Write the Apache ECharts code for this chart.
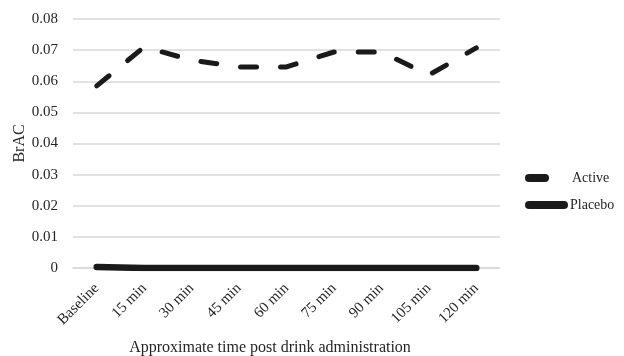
<!DOCTYPE html>
<html><head><meta charset="utf-8">
<script src="https://cdn.jsdelivr.net/npm/echarts@6/dist/echarts.min.js"></script>
<style>html,body{margin:0;padding:0;background:#fff}#c{width:624px;height:356px}</style>
</head><body><div id="c"></div>
<script>
const categories = ['Baseline','15 min','30 min','45 min','60 min','75 min','90 min','105 min','120 min'];
const activeValues = [0.0585, 0.0710, 0.0668, 0.0646, 0.0646, 0.0694, 0.0694, 0.0620, 0.0707];
const placeboValues = [0.0003, 0, 0, 0, 0, 0, 0, 0, 0];
const yTicks = { min: 0, max: 0.08, interval: 0.01 };

const font = '"Liberation Serif", "Times New Roman", serif';
const txt = '#262626';
const chart = echarts.init(document.getElementById('c'));
chart.setOption({
  animation: false,
  textStyle: { fontFamily: font },
  grid: { left: 73, right: 124, top: 19, bottom: 88, containLabel: false, outerBoundsMode: 'none' },
  legend: [
    {
      orient: 'vertical', left: 525, top: 171, padding: 0, itemWidth: 24, itemHeight: 8,
      textStyle: { fontFamily: font, fontSize: 14, color: txt, padding: [0,0,0,18] },
      data: [{ name: 'Active', icon: 'path://M4,0 L20,0 A4,4 0 0 1 20,8 L4,8 A4,4 0 0 1 4,0 Z', itemStyle: { color: '#1a1a1a' } }]
    },
    {
      orient: 'vertical', left: 525, top: 198, padding: 0, itemWidth: 43, itemHeight: 8,
      textStyle: { fontFamily: font, fontSize: 14, color: txt, padding: [0,0,0,-3] },
      data: [{ name: 'Placebo', icon: 'path://M4,0 L39,0 A4,4 0 0 1 39,8 L4,8 A4,4 0 0 1 4,0 Z', itemStyle: { color: '#1a1a1a' } }]
    }
  ],
  xAxis: {
    type: 'category', data: categories, boundaryGap: true,
    name: 'Approximate time post drink administration', nameLocation: 'middle', nameGap: 72,
    nameMoveOverlap: false,
    nameTextStyle: { fontFamily: font, fontSize: 16, color: txt, padding: [0, 33, 0, 0] },
    axisLine: { lineStyle: { color: '#d9d9d9', width: 1.5 } },
    axisTick: { show: false },
    axisLabel: { rotate: 45, margin: 18, fontFamily: font, fontSize: 15, color: txt, interval: 0 }
  },
  yAxis: {
    type: 'value', min: yTicks.min, max: yTicks.max, interval: yTicks.interval,
    name: 'BrAC', nameLocation: 'middle', nameGap: 45, nameRotate: 90, nameMoveOverlap: false,
    nameTextStyle: { fontFamily: font, fontSize: 16, color: txt },
    axisLine: { show: false }, axisTick: { show: false },
    splitLine: { lineStyle: { color: '#d9d9d9', width: 1.5 } },
    axisLabel: { margin: 15, fontFamily: font, fontSize: 15, color: txt,
      formatter: v => v === 0 ? '0' : v.toFixed(2) }
  },
  series: [
    { name: 'Active', type: 'line', data: activeValues, symbol: 'none',
      itemStyle: { color: '#1a1a1a' },
      lineStyle: { color: '#1a1a1a', width: 5, type: [16, 24], cap: 'round', join: 'round' } },
    { name: 'Placebo', type: 'line', data: placeboValues, symbol: 'none',
      itemStyle: { color: '#1a1a1a' },
      lineStyle: { color: '#1a1a1a', width: 6.5, cap: 'round', join: 'round' } }
  ]
});
</script></body></html>
